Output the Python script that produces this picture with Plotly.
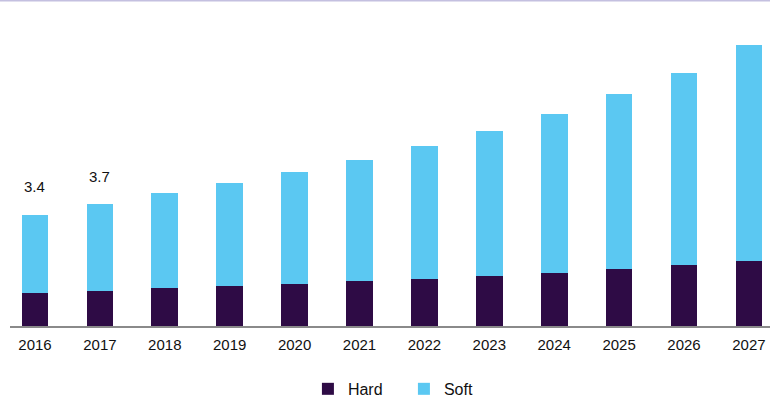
import plotly.graph_objects as go

years = ["2016", "2017", "2018", "2019", "2020", "2021", "2022", "2023", "2024", "2025", "2026", "2027"]
hard = [1.00, 1.08, 1.17, 1.23, 1.29, 1.38, 1.44, 1.53, 1.62, 1.74, 1.86, 1.99]
total = [3.40, 3.73, 4.06, 4.38, 4.72, 5.08, 5.51, 5.97, 6.49, 7.10, 7.76, 8.59]
soft = [round(t - h, 2) for t, h in zip(total, hard)]
label_years = ["2016", "2017"]
label_text = ["3.4", "3.7"]

fig = go.Figure()
fig.add_trace(go.Bar(x=years, y=hard, name="Hard", marker=dict(color="#2e0b45", line=dict(width=0))))
fig.add_trace(go.Bar(x=years, y=soft, name="Soft", marker=dict(color="#5bc8f2", line=dict(width=0))))

for yr, txt in zip(label_years, label_text):
    i = years.index(yr)
    fig.add_annotation(x=i, y=total[i], xref="x", yref="y", text=txt, showarrow=False,
                       yshift=28, font=dict(family="Liberation Sans, Arial", size=15, color="#111111"))

fig.add_shape(type="rect", xref="paper", yref="paper", x0=-0.02, x1=1.02,
              y0=1 + 30.5 / 294, y1=1 + 32.5 / 294, fillcolor="#c4c0e0", line=dict(width=0), layer="above")

fig.update_layout(
    width=770, height=400,
    margin=dict(l=10, r=0, t=32, b=74, autoexpand=False),
    barmode="stack",
    bargap=0.59,
    plot_bgcolor="white", paper_bgcolor="white",
    font=dict(family="Liberation Sans, Arial", size=15, color="#111111"),
    showlegend=True,
    legend=dict(orientation="h", x=0.392, xanchor="left", y=-0.214, yanchor="middle",
                font=dict(size=16), traceorder="normal", entrywidth=51, entrywidthmode="pixels"),
    xaxis=dict(type="category", range=[-0.385, 11.325], showline=True, linecolor="#8a8a8a", linewidth=1.5,
               showgrid=False, ticks="", tickfont=dict(size=15), ticklabelstandoff=4),
    yaxis=dict(range=[0, 9], visible=False, showgrid=False),
)

fig.write_html("out.html")
